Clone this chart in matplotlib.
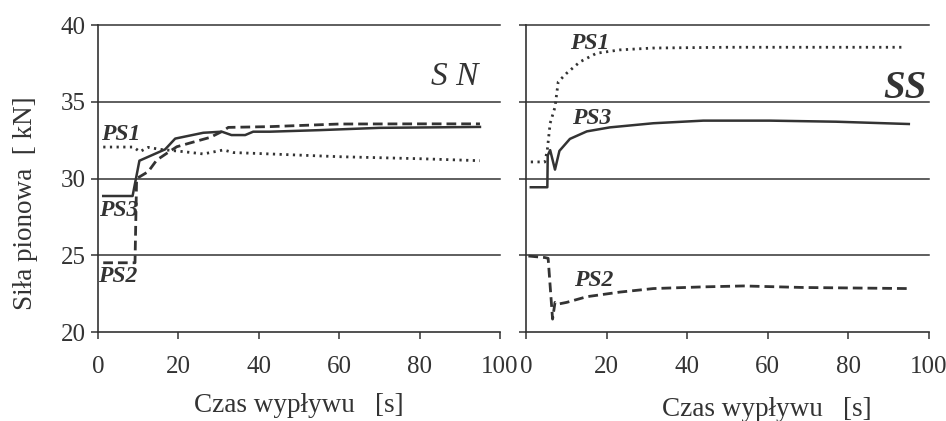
import matplotlib
matplotlib.use("Agg")
import matplotlib.pyplot as plt

# --- data ---
# left panel (SN)
sn_t_ps1 = [1.3, 8.8, 10.4, 12.5, 15.4, 21.2, 26.2, 31.2, 33.7, 42.8, 60, 80, 95]
sn_ps1 = [32.05, 32.05, 31.75, 32.03, 31.9, 31.75, 31.6, 31.86, 31.69, 31.6, 31.42, 31.29, 31.16]

sn_t_ps2 = [1.3, 9.2, 9.6, 10.4, 12.5, 14.6, 17.1, 19.6, 24.6, 27.9, 31.2, 32.4, 42.8, 60, 80, 95]
sn_ps2 = [24.51, 24.51, 30.0, 30.12, 30.45, 31.2, 31.64, 32.07, 32.44, 32.68, 33.11, 33.33, 33.38, 33.55, 33.56, 33.56]

sn_t_ps3 = [1.3, 8.6, 10.3, 16.7, 19.2, 26.2, 30.8, 33.2, 36.6, 38.6, 42.8, 55, 70, 95]
sn_ps3 = [28.86, 28.86, 31.16, 31.9, 32.6, 32.98, 33.05, 32.83, 32.83, 33.05, 33.05, 33.15, 33.3, 33.36]

# right panel (SS)
ss_t_ps1 = [1.2, 4.7, 5.3, 6.0, 7.2, 8.0, 10.1, 13.4, 17.5, 23.3, 31.5, 50, 70, 94]
ss_ps1 = [31.08, 31.08, 31.88, 33.6, 34.65, 36.3, 36.86, 37.6, 38.16, 38.38, 38.5, 38.55, 38.55, 38.55]

ss_t_ps2 = [0.6, 4.7, 5.5, 6.6, 7.2, 8.0, 10.1, 15.1, 23.3, 31.6, 44, 54, 68.8, 95]
ss_ps2 = [24.95, 24.85, 24.8, 20.84, 21.93, 21.82, 21.93, 22.3, 22.6, 22.83, 22.94, 23.0, 22.9, 22.83]

ss_t_ps3 = [1.2, 5.3, 5.4, 6.0, 7.2, 8.3, 10.9, 15.1, 20.8, 31.6, 44, 60.5, 77, 95]
ss_ps3 = [29.43, 29.43, 31.5, 31.85, 30.58, 31.8, 32.58, 33.07, 33.33, 33.6, 33.77, 33.77, 33.7, 33.55]

grid_levels = [25, 30, 35, 40]
x_ticks = [0, 20, 40, 60, 80, 100]
y_ticks = [20, 25, 30, 35, 40]

ink = "#333333"
plt.rcParams["font.family"] = ["Liberation Serif", "DejaVu Serif"]

fig = plt.figure(figsize=(9.46, 4.21), dpi=100)
ax1 = fig.add_axes([0.1036, 0.2114, 0.425, 0.7292])
ax2 = fig.add_axes([0.556, 0.2114, 0.426, 0.7292])


def setup(ax, show_ylabels):
    ax.set_xlim(0, 100)
    ax.set_ylim(20, 40)
    ax.set_xticks(x_ticks)
    ax.set_yticks(y_ticks)
    for s in ["top", "right"]:
        ax.spines[s].set_visible(False)
    for s in ["left", "bottom"]:
        ax.spines[s].set_color(ink)
        ax.spines[s].set_linewidth(1.2)
    for lvl in grid_levels:
        ax.axhline(lvl, color=ink, lw=1.1, clip_on=False, zorder=1)
    ax.tick_params(axis="both", direction="out", length=5, width=1.1,
                   color=ink, labelcolor=ink, labelsize=18)
    ax.tick_params(axis="x", pad=12)
    ax.tick_params(axis="y", pad=4)
    if not show_ylabels:
        ax.tick_params(axis="y", labelleft=False)


def draw(ax, t1, v1, t2, v2, t3, v3):
    ax.plot(t1, v1, color=ink, lw=2.0, linestyle=(0, (0.8, 1.6)), dash_capstyle="butt", zorder=3)
    ax.plot(t2, v2, color=ink, lw=2.0, linestyle=(0, (3.5, 1.8)), zorder=3)
    ax.plot(t3, v3, color=ink, lw=1.8, linestyle="-", zorder=3)


setup(ax1, True)
setup(ax2, False)
draw(ax1, sn_t_ps1, sn_ps1, sn_t_ps2, sn_ps2, sn_t_ps3, sn_ps3)
draw(ax2, ss_t_ps1, ss_ps1, ss_t_ps2, ss_ps2, ss_t_ps3, ss_ps3)

lab = dict(color=ink, fontsize=17, fontweight="bold", fontstyle="italic",
           ha="center", va="center", zorder=4)
ax1.text(5.7, 32.85, "PS1", **lab)
ax1.text(5.2, 27.9, "PS3", **lab)
ax1.text(5.0, 23.6, "PS2", **lab)
ax2.text(15.9, 38.8, "PS1", **lab)
ax2.text(16.3, 33.94, "PS3", **lab)
ax2.text(16.7, 23.38, "PS2", **lab)

ax1.text(88.6, 36.6, "S N", color=ink, fontsize=24, fontstyle="italic",
         ha="center", va="center")
ax2.text(94, 35.85, "SS", color=ink, fontsize=28, fontstyle="italic",
         fontweight="bold", ha="center", va="center")

ax1.set_xlabel("Czas wypływu   [s]", fontsize=19.5, color=ink)
ax1.xaxis.set_label_coords(0.5, -0.2)
ax2.set_xlabel("Czas wypływu   [s]", fontsize=19.5, color=ink)
ax2.xaxis.set_label_coords(0.597, -0.213)
ax1.set_ylabel("Siła pionowa  [ kN]", fontsize=19.5, color=ink)
ax1.yaxis.set_label_coords(-0.15, 0.42)

fig.savefig("out.png", dpi=100)
